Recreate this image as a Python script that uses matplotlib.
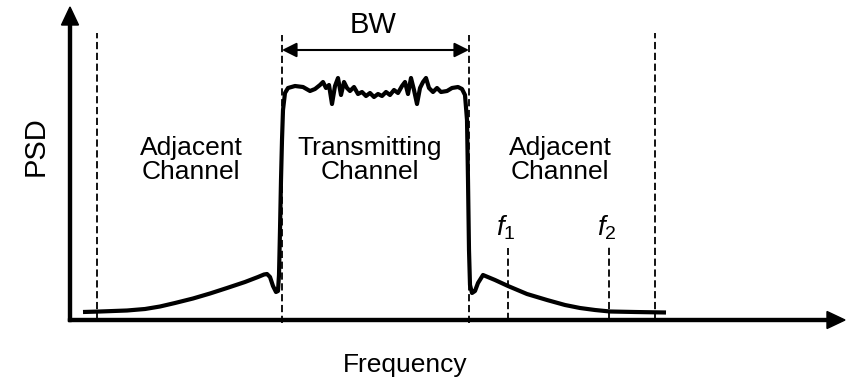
#!/usr/bin/env python3

import matplotlib
matplotlib.use("Agg")
import matplotlib.pyplot as plt

plt.rcParams['font.family'] = ['Liberation Sans', 'DejaVu Sans']
plt.rcParams['mathtext.fontset'] = 'custom'
plt.rcParams['mathtext.rm'] = 'Liberation Sans'
plt.rcParams['mathtext.it'] = 'Liberation Sans:italic'

# spectrum of the transmitted signal (arbitrary frequency / PSD units)
freq = [13, 30, 57, 75, 90, 105, 123, 140, 157, 175, 188, 194, 197, 200, 203,
        206, 208, 209,
        210, 211, 212, 213, 215, 218,
        225, 233, 240, 245, 250, 253, 256, 259, 262, 265, 268, 271, 274, 277,
        280, 284, 288, 292, 296, 300, 304, 308, 312, 316, 320, 324, 328, 332,
        335, 338, 341, 344, 347, 350, 353, 356, 359, 363, 367, 371, 377, 382,
        388, 392, 395,
        397, 398, 399, 400, 402, 405, 408, 413,
        425, 438, 457, 477, 495, 510, 525, 540, 565, 596]
psd = [8, 8.5, 9.5, 11, 13.5, 17, 21.5, 26.5, 32, 38, 43, 45.5, 46, 43, 34,
       28, 29, 45,
       90, 140, 180, 210, 227, 232,
       234, 233, 229, 231, 235, 238, 232, 235, 216, 234, 242, 225, 238, 232,
       229, 233, 226, 228, 224, 227, 223, 226, 224, 228, 225, 230, 227, 234,
       238, 226, 242, 230, 216, 232, 238, 242, 232, 228, 232, 228, 229, 232,
       233, 231, 225,
       200, 140, 70, 35, 27, 29, 37, 45,
       40, 34, 26, 20, 15, 12, 10, 8.5, 8, 7.5]

# channel boundaries and the two measurement frequencies
channel_edges = [27, 212, 399, 585]
marker_freqs = [438, 539]
marker_labels = ['$f_1$', '$f_2$']

fig = plt.figure(figsize=(8.46, 3.84), dpi=100)
ax = fig.add_axes([0, 0, 1, 1])
ax.set_xlim(-70, 776)
ax.set_ylim(-64, 320)
ax.axis('off')

# dashed channel boundaries
for i, x in enumerate(channel_edges):
    inner = i in (1, 2)
    top = 285 if inner else 287
    bottom = -3 if inner else 0
    ax.plot([x, x], [bottom, top], color='k', lw=1.3, dashes=(4, 2))

# dashed markers for f1 and f2
for x, top in zip(marker_freqs, [72, 75]):
    ax.plot([x, x], [0, top], color='k', lw=1.3, dashes=(4, 2))

# the PSD curve
ax.plot(freq, psd, color='k', lw=3, solid_joinstyle='round',
        solid_capstyle='butt')

# axes arrows
ax.arrow(0, -1.5, 0, 314.5, width=3, head_width=17, head_length=18,
         length_includes_head=True, color='k')
ax.arrow(-1.5, 0, 776.5, 0, width=3, head_width=17, head_length=18,
         length_includes_head=True, color='k')

# bandwidth arrow
ax.annotate('', xy=(channel_edges[1], 270), xytext=(channel_edges[2], 270),
            arrowprops=dict(arrowstyle='<|-|>', color='k', lw=1.5,
                            mutation_scale=22, shrinkA=0, shrinkB=0))
ax.text(303, 287, 'BW', fontsize=21, ha='center', va='baseline')

# channel labels
for x, label in [(121, 'Adjacent\nChannel'), (300, 'Transmitting\nChannel'),
                 (490, 'Adjacent\nChannel')]:
    ax.text(x, 160, label, fontsize=19, ha='center', va='center',
            linespacing=0.98)

for x, label in zip(marker_freqs, marker_labels):
    ax.text(x - 12, 84, label, fontsize=20, ha='left', va='baseline')

# axis titles
ax.text(335, -52, 'Frequency', fontsize=19, ha='center', va='baseline')
ax.text(-34, 174, 'PSD', fontsize=21, ha='center', va='center',
        rotation=90)

fig.savefig('out.png', dpi=100)
